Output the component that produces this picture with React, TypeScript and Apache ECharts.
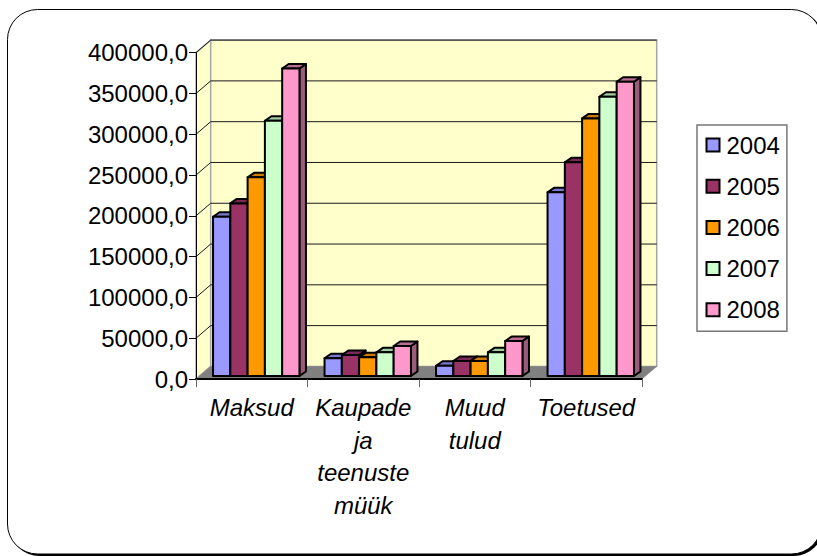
import React, { useEffect, useRef } from "react";
import * as echarts from "echarts";

const categories = ["Maksud", "Kaupade\nja\nteenuste\nmüük", "Muud\ntulud", "Toetused"];
const years = ["2004", "2005", "2006", "2007", "2008"];
const values2004 = [195200, 21700, 12600, 225100];
const values2005 = [211600, 25700, 18400, 261900];
const values2006 = [243500, 22900, 18400, 315800];
const values2007 = [312900, 29000, 29000, 342300];
const values2008 = [377000, 36800, 42900, 360700];
const seriesValues = [values2004, values2005, values2006, values2007, values2008];
const frontColors = ["#9999FF", "#993366", "#FF9900", "#CCFFCC", "#FF99CC"];
const sideColors = ["#7373BF", "#73264C", "#BF7300", "#99BF99", "#995C7A"];
const topColors = ["#7A7ACC", "#7A2952", "#CC7A00", "#A3CCA3", "#B86F93"];
const yTicks = [0, 50000, 100000, 150000, 200000, 250000, 300000, 350000, 400000];

const WALL_DX = 14.7;
const WALL_DY = 12.6;
const BAR_DX = 4.5;
const BAR_DY = 3;
const DEPTH_DX = 6.5;
const DEPTH_DY = 4.5;
const BAR_SHARE = 0.155;

function renderWalls(params: any) {
  const c = params.coordSys;
  const l = c.x, r = c.x + c.width, t = c.y, b = c.y + c.height;
  return {
    type: "group",
    children: [
      { type: "polygon", shape: { points: [[l, b], [l + WALL_DX, b - WALL_DY], [l + WALL_DX, t - WALL_DY], [l, t]] },
        style: { fill: "#FFFFCC", stroke: "#A6A6A6", lineWidth: 1.5 } },
      { type: "polygon", shape: { points: [[l + WALL_DX, b - WALL_DY], [r + WALL_DX, b - WALL_DY], [r + WALL_DX, t - WALL_DY], [l + WALL_DX, t - WALL_DY]] },
        style: { fill: "#FFFFCC", stroke: "#A6A6A6", lineWidth: 1.5 } },
      { type: "polygon", shape: { points: [[l, b], [r, b], [r + WALL_DX, b - WALL_DY], [l + WALL_DX, b - WALL_DY]] },
        style: { fill: "#808080", stroke: "#808080", lineWidth: 0.5 } },
    ],
  };
}

function renderGridLine(params: any, api: any) {
  const c = params.coordSys;
  const y = api.coord([0, api.value(0)])[1];
  const l = c.x, r = c.x + c.width;
  const st = { stroke: "#1a1a1a", lineWidth: 1 };
  return {
    type: "group",
    children: [
      { type: "line", shape: { x1: l, y1: y, x2: l + WALL_DX, y2: y - WALL_DY }, style: st },
      { type: "line", shape: { x1: l + WALL_DX, y1: y - WALL_DY, x2: r + WALL_DX, y2: y - WALL_DY }, style: st },
    ],
  };
}

function makeBarRenderer(seriesIndex: number) {
  return (_params: any, api: any) => {
    const idx = api.value(0);
    const top = api.coord([idx, api.value(1)]);
    const base = api.coord([idx, 0]);
    const w = api.size([1, 0])[0] * BAR_SHARE;
    const x0 = top[0] + BAR_DX + (seriesIndex - 2.5) * w;
    const x1 = x0 + w;
    const yT = top[1] - BAR_DY;
    const yB = base[1] - BAR_DY;
    const s = { stroke: "#000", lineWidth: 2, lineJoin: "round" };
    return {
      type: "group",
      children: [
        { type: "polygon", shape: { points: [[x1, yT], [x1 + DEPTH_DX, yT - DEPTH_DY], [x1 + DEPTH_DX, yB - DEPTH_DY], [x1, yB]] },
          style: { ...s, fill: sideColors[seriesIndex] } },
        { type: "polygon", shape: { points: [[x0, yT], [x0 + DEPTH_DX, yT - DEPTH_DY], [x1 + DEPTH_DX, yT - DEPTH_DY], [x1, yT]] },
          style: { ...s, fill: topColors[seriesIndex] } },
        { type: "rect", shape: { x: x0, y: yT, width: w, height: yB - yT },
          style: { ...s, fill: frontColors[seriesIndex] } },
      ],
    };
  };
}

export default function App() {
  const ref = useRef<HTMLDivElement>(null);
  useEffect(() => {
    const chart = echarts.init(ref.current!, null, { renderer: "svg" });
    const font = "'Liberation Sans', Arial, sans-serif";
    chart.setOption({
      animation: false,
      backgroundColor: "#fff",
      textStyle: { fontFamily: font },
      graphic: [
        { type: "rect", z: -10, silent: true, shape: { x: 9.5, y: 11, width: 814, height: 545, r: 30 }, style: { fill: "#000" } },
        { type: "rect", z: -9, silent: true, shape: { x: 7.5, y: 9.5, width: 814, height: 544.5, r: 30 }, style: { fill: "#fff", stroke: "#000", lineWidth: 1 } },
      ],
      grid: { left: 196, right: 175, top: 52.7, bottom: 177, containLabel: false },
      legend: {
        data: years,
        orient: "vertical",
        left: 697,
        top: 125,
        icon: "rect",
        itemWidth: 13,
        itemHeight: 13,
        itemGap: 17.2,
        padding: [8, 7, 9.5, 8.5],
        borderColor: "#777",
        borderWidth: 1.5,
        itemStyle: { borderColor: "#000", borderWidth: 2 },
        textStyle: { fontFamily: font, fontSize: 24, color: "#000", padding: [0, 0, 0, 2] },
      },
      xAxis: {
        type: "category",
        data: categories,
        z: 3,
        axisLine: { lineStyle: { color: "#000", width: 2 } },
        axisTick: { show: true, alignWithLabel: false, length: 8, lineStyle: { color: "#666", width: 1 } },
        axisLabel: {
          interval: 0, margin: 12.5, fontFamily: font, fontSize: 24, fontStyle: "italic", color: "#000", lineHeight: 32.5,
        },
      },
      yAxis: {
        type: "value",
        min: 0,
        max: 400000,
        interval: 50000,
        z: 3,
        splitLine: { show: false },
        axisLine: { show: true, lineStyle: { color: "#000", width: 1 } },
        axisTick: { show: true, length: 7, lineStyle: { color: "#000", width: 1 } },
        axisLabel: {
          margin: 8, fontFamily: font, fontSize: 24, color: "#000",
          formatter: (v: number) => v.toFixed(1).replace(".", ","),
        },
      },
      series: [
        { type: "custom", name: "walls", z: 1, silent: true, clip: false, renderItem: renderWalls, data: [[0, 0]], encode: { x: 0, y: 1 } },
        { type: "custom", name: "grid", z: 1.5, silent: true, clip: false, renderItem: renderGridLine, data: yTicks.slice(1).map((v) => [v]), encode: { y: 0 } },
        ...years.map((y, i) => ({
          type: "custom",
          name: y,
          z: 4,
          clip: false,
          itemStyle: { color: frontColors[i] },
          renderItem: makeBarRenderer(i),
          data: seriesValues[i].map((v, c) => [c, v]),
          encode: { x: 0, y: 1 },
        })),
      ],
    });
    return () => chart.dispose();
  }, []);
  return <div ref={ref} style={{ position: "fixed", left: 0, top: 0, width: 817, height: 556 }} />;
}
